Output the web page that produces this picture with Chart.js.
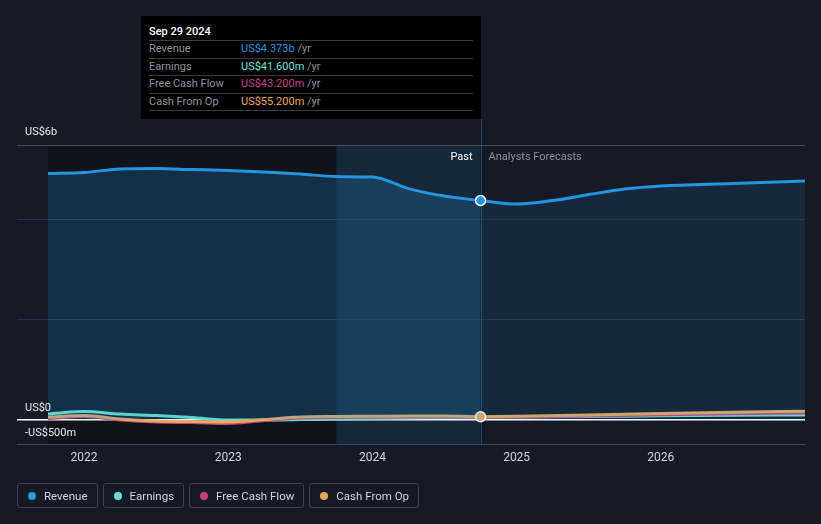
<!DOCTYPE html>
<html>
<head>
<meta charset="utf-8">
<script src="https://cdn.jsdelivr.net/npm/chart.js@4.4.1/dist/chart.umd.min.js"></script>
<style>
  html, body { margin: 0; padding: 0; background: #151b26; }
  body { width: 821px; height: 524px; position: relative; overflow: hidden; font-family: Roboto, "Noto Sans", sans-serif; }
  #chart { position: absolute; left: 0; top: 0; }
  .tip { position: absolute; left: 141px; top: 16px; width: 340px; height: 103px; background: #000; box-sizing: border-box; padding: 8px 8px 0 8px; font-size: 11px; }
  .tip .date { color: #fff; font-weight: 500; font-size: 11px; height: 17px; box-sizing: border-box; line-height: 15px; border-bottom: 1px solid #3a3a3a; }
  .tip .row { height: 17.6px; box-sizing: border-box; line-height: 16.5px; border-bottom: 1px solid #3a3a3a; display: flex; }
  .tip .lab { width: 92px; color: #8e939b; }
  .tip .unit { color: #8e939b; }
  .legend { position: absolute; left: 17px; top: 483px; display: flex; gap: 5px; }
  .legend .item { height: 25px; box-sizing: border-box; border: 1px solid #3c414b; border-radius: 3px; display: flex; align-items: center; padding: 0 9px 0 10px; color: #d2d5da; font-size: 11.5px; }
  .legend .dot { width: 8px; height: 8px; border-radius: 50%; margin-right: 8px; }
</style>
</head>
<body>
<canvas id="chart" width="821" height="524"></canvas>
<div class="tip" id="tip"></div>
<div class="legend" id="legend"></div>
<script>
// series names + colours
const seriesNames = ["Revenue", "Earnings", "Free Cash Flow", "Cash From Op"];
const seriesColors = ["#2394df", "#6be3d2", "#c2437f", "#e8a95b"];

// x positions (decimal years), past is quarterly up to Sep 29 2024
const pastYears = [2021.75, 2022.0, 2022.25, 2022.5, 2022.75, 2023.0, 2023.25, 2023.5, 2023.75, 2024.0, 2024.25, 2024.5, 2024.75];
const forecastYears = [2024.75, 2025.0, 2025.25, 2025.5, 2025.75, 2026.0, 2026.5, 2027.0];
const smallForecastYears = [2024.75, 2025.0, 2025.5, 2026.0, 2026.5, 2027.0];

// values in US$ billions
const revenuePast = [4.91, 4.93, 5.00, 5.01, 4.99, 4.97, 4.94, 4.90, 4.85, 4.84, 4.61, 4.46, 4.373];
const revenueForecast = [4.373, 4.30, 4.37, 4.49, 4.60, 4.66, 4.71, 4.76];
const earningsPast = [0.11, 0.16, 0.11, 0.08, 0.04, -0.01, -0.01, 0.0, 0.01, 0.02, 0.03, 0.04, 0.0416];
const earningsForecast = [0.0416, 0.05, 0.06, 0.075, 0.085, 0.09];
const fcfPast = [0.02, 0.06, -0.01, -0.05, -0.06, -0.08, -0.02, 0.03, 0.04, 0.045, 0.05, 0.05, 0.0432];
const fcfForecast = [0.0432, 0.05, 0.07, 0.095, 0.115, 0.13];
const cfoPast = [0.05, 0.08, 0.01, -0.03, -0.04, -0.05, 0.0, 0.05, 0.06, 0.065, 0.07, 0.07, 0.0552];
const cfoForecast = [0.0552, 0.065, 0.09, 0.12, 0.145, 0.165];

// axis
const yearTicks = [2022, 2023, 2024, 2025, 2026];
const xMin = 2021.535, xMax = 2027.0;
const yMin = -0.5, yMax = 5.48;
const yGridValues = [-0.5, 0, 2, 4, 5.48];
const nowYear = 2024.75;
const highlightStart = 2023.75;

// tooltip rows
const tipDate = "Sep 29 2024";
const tipValues = ["US$4.373b", "US$41.600m", "US$43.200m", "US$55.200m"];

const pts = (xs, ys) => xs.map((x, i) => ({ x: x, y: ys[i] }));

function lineSet(name, color, xs, ys, order, extra) {
  return Object.assign({
    label: name,
    data: pts(xs, ys),
    borderColor: color,
    borderWidth: 3,
    pointRadius: 0,
    tension: 0.4,
    cubicInterpolationMode: 'monotone',
    fill: false,
    order: order
  }, extra || {});
}

// marker only on the last past point
const lastDot = (n) => (ctx) => ctx.dataIndex === n - 1 ? 5 : 0;

const datasets = [
  lineSet("Revenue", seriesColors[0], pastYears, revenuePast, 0, {
    fill: 'origin', backgroundColor: 'rgba(35,148,223,0.22)',
    pointRadius: lastDot(pastYears.length), pointBackgroundColor: seriesColors[0],
    pointBorderColor: '#fff', pointBorderWidth: 1.5
  }),
  lineSet("Revenue forecast", seriesColors[0], forecastYears, revenueForecast, 0, {
    fill: 'origin', backgroundColor: 'rgba(35,148,223,0.12)'
  }),
  lineSet("Cash From Op", seriesColors[3], pastYears, cfoPast, 1, {
    pointRadius: lastDot(pastYears.length), pointBackgroundColor: seriesColors[3],
    pointBorderColor: '#fff', pointBorderWidth: 1.5
  }),
  lineSet("Cash From Op forecast", seriesColors[3], smallForecastYears, cfoForecast, 1),
  lineSet("Free Cash Flow", seriesColors[2], pastYears, fcfPast, 2),
  lineSet("Free Cash Flow forecast", seriesColors[2], smallForecastYears, fcfForecast, 2),
  lineSet("Earnings", seriesColors[1], pastYears, earningsPast, 3),
  lineSet("Earnings forecast", seriesColors[1], smallForecastYears, earningsForecast, 3)
];

// backgrounds, divider, labels
const decor = {
  id: 'decor',
  beforeDraw(chart) {
    const { ctx, chartArea: a, scales: { x } } = chart;
    const x0 = x.getPixelForValue(pastYears[0]);
    const x1 = x.getPixelForValue(highlightStart);
    const x2 = x.getPixelForValue(nowYear);
    ctx.save();
    ctx.fillStyle = 'rgba(0,0,0,0.25)';
    ctx.fillRect(x0, a.top, x1 - x0, a.bottom - a.top);
    ctx.fillStyle = 'rgba(35,148,223,0.10)';
    ctx.fillRect(x1, a.top, x2 - x1, a.bottom - a.top);
    ctx.restore();
  },
  beforeDatasetsDraw(chart) {
    const { ctx, chartArea: a, scales: { x } } = chart;
    const x2 = Math.round(x.getPixelForValue(nowYear)) + 0.5;
    ctx.save();
    ctx.strokeStyle = 'rgba(35,148,223,0.35)';
    ctx.lineWidth = 1;
    ctx.beginPath();
    ctx.moveTo(x2, 119);
    ctx.lineTo(x2, a.bottom);
    ctx.stroke();
    ctx.restore();
  },
  afterDraw(chart) {
    const { ctx, chartArea: a, scales: { x, y } } = chart;
    const x2 = x.getPixelForValue(nowYear);
    ctx.save();
    ctx.font = '11px Roboto';
    ctx.textBaseline = 'middle';
    ctx.textAlign = 'right';
    ctx.fillStyle = '#ffffff';
    ctx.fillText('Past', x2 - 8, a.top + 12);
    ctx.textAlign = 'left';
    ctx.fillStyle = '#8a8f97';
    ctx.fillText('Analysts Forecasts', x2 + 8, a.top + 12);

    ctx.font = '11px Roboto';
    ctx.fillStyle = '#e6e8eb';
    ctx.fillText('US$6b', 25, a.top - 13);
    ctx.fillText('US$0', 25, y.getPixelForValue(0) - 11);
    ctx.fillText('-US$500m', 25, y.getPixelForValue(0) + 14);
    ctx.restore();
  }
};

new Chart(document.getElementById('chart'), {
  type: 'line',
  data: { datasets: datasets },
  options: {
    responsive: false,
    animation: false,
    layout: { padding: { left: 17, right: 16, top: 145, bottom: 53 } },
    plugins: { legend: { display: false }, tooltip: { enabled: false } },
    scales: {
      x: {
        type: 'linear', min: xMin, max: xMax,
        afterBuildTicks: (axis) => { axis.ticks = yearTicks.map(v => ({ value: v })); },
        grid: { display: false, drawTicks: false },
        border: { display: true, color: '#41464f', width: 1 },
        ticks: { color: '#d3d6db', font: { family: 'Roboto', size: 12 }, padding: 6, callback: (v) => String(v), maxRotation: 0, autoSkip: false }
      },
      y: {
        type: 'linear', min: yMin, max: yMax,
        afterBuildTicks: (axis) => { axis.ticks = yGridValues.map(v => ({ value: v })); },
        ticks: { display: false },
        border: { display: false },
        grid: {
          drawTicks: false,
          lineWidth: (c) => c.tick && c.tick.value === 0 ? 1.5 : 1,
          color: (c) => {
            const v = c.tick ? c.tick.value : null;
            if (v === 0) return '#ffffff';
            if (v === yMin) return 'rgba(0,0,0,0)';
            if (v === yMax) return '#454b55';
            return '#263141';
          }
        }
      }
    }
  },
  plugins: [decor]
});

// tooltip box
const tip = document.getElementById('tip');
let html = '<div class="date">' + tipDate + '</div>';
seriesNames.forEach((n, i) => {
  html += '<div class="row"><span class="lab">' + n + '</span><span style="color:' + seriesColors[i] + '">' + tipValues[i] + '</span><span class="unit">&nbsp;/yr</span></div>';
});
tip.innerHTML = html;

// legend
const legend = document.getElementById('legend');
seriesNames.forEach((n, i) => {
  const el = document.createElement('div');
  el.className = 'item';
  el.innerHTML = '<span class="dot" style="background:' + seriesColors[i] + '"></span>' + n;
  legend.appendChild(el);
});
</script>
</body>
</html>
